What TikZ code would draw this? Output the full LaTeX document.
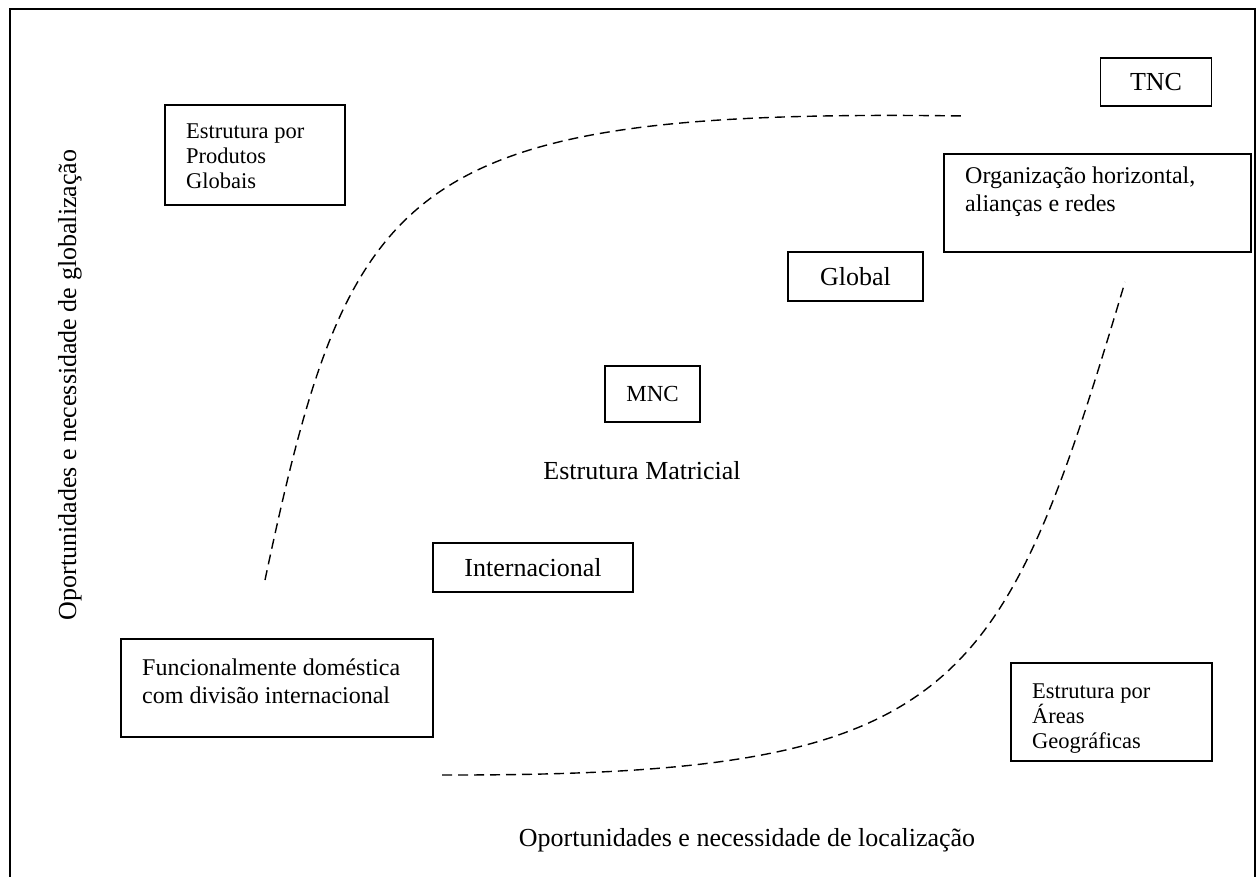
\documentclass[tikz,border=0pt]{standalone}
\usepackage{fontspec}
\setmainfont{Liberation Serif}
\begin{document}
\begin{tikzpicture}[x=1pt,y=-1pt,
  frame/.style={line width=2pt},
  box/.style={draw, line width=1.6pt, inner sep=0pt},
  boxtext/.style={inner sep=0pt, anchor=north west, align=left},
  small/.style={font=\fontsize{22.5}{25}\selectfont},
  mid/.style={font=\fontsize{24}{28}\selectfont},
  big/.style={font=\fontsize{26}{30}\selectfont},
  border/.style={dash pattern=on 10pt off 6pt, line width=1.4pt}]
\useasboundingbox (0,0) rectangle (1256,877);

% outer frame (open at the bottom)
\coordinate (fbl) at (9.5,877);
\coordinate (ftl) at (9.5,9);
\coordinate (ftr) at (1255,9);
\coordinate (fbr) at (1255,877);
\draw[frame] (fbl) -- (ftl) -- (ftr) -- (fbr);

% dashed boundaries
\coordinate (ua) at (265,580);
\coordinate (ub) at (965,116);
\draw[border] (ua) .. controls (350,180) and (400,108) .. (ub);
\coordinate (la) at (442,775);
\coordinate (lb) at (1125,282);
\draw[border] (la) .. controls (960,776) and (1000,700) .. (lb);

% structure boxes
\node[box, minimum width=180pt, minimum height=100pt] (prod) at (255,155) {};
\node[boxtext, small] (prodtxt) at (186,124) {Estrutura por\\Produtos\\Globais};

\node[box, minimum width=111pt, minimum height=48pt, big] (tnc) at (1156,82) {TNC};

\node[box, minimum width=307pt, minimum height=98pt] (horiz) at (1097.5,203) {};
\node[boxtext, mid] (horiztxt) at (965,166.5) {Organização horizontal,\\alianças e redes};

\node[box, minimum width=135pt, minimum height=49pt, big] (glob) at (855.5,276.5) {Global};

\node[box, minimum width=95pt, minimum height=56pt, font=\fontsize{23}{27}\selectfont] (mnc) at (652.5,394) {MNC};

\node[big] (matrix) at (642,471) {Estrutura Matricial};

\node[box, minimum width=200pt, minimum height=49pt, big] (intl) at (533,567.5) {Internacional};

\node[box, minimum width=312pt, minimum height=98pt] (dom) at (277,688) {};
\node[boxtext, mid] (domtxt) at (142,658.5) {Funcionalmente doméstica\\com divisão internacional};

\node[box, minimum width=201pt, minimum height=98pt] (geo) at (1111.5,712) {};
\node[boxtext, small] (geotxt) at (1032,683.5) {Estrutura por\\Áreas\\Geográficas};

% axis labels
\node[big, rotate=90] (ylab) at (70,385) {Oportunidades e necessidade de globalização};
\node[big] (xlab) at (747,840) {Oportunidades e necessidade de localização};
\end{tikzpicture}
\end{document}
